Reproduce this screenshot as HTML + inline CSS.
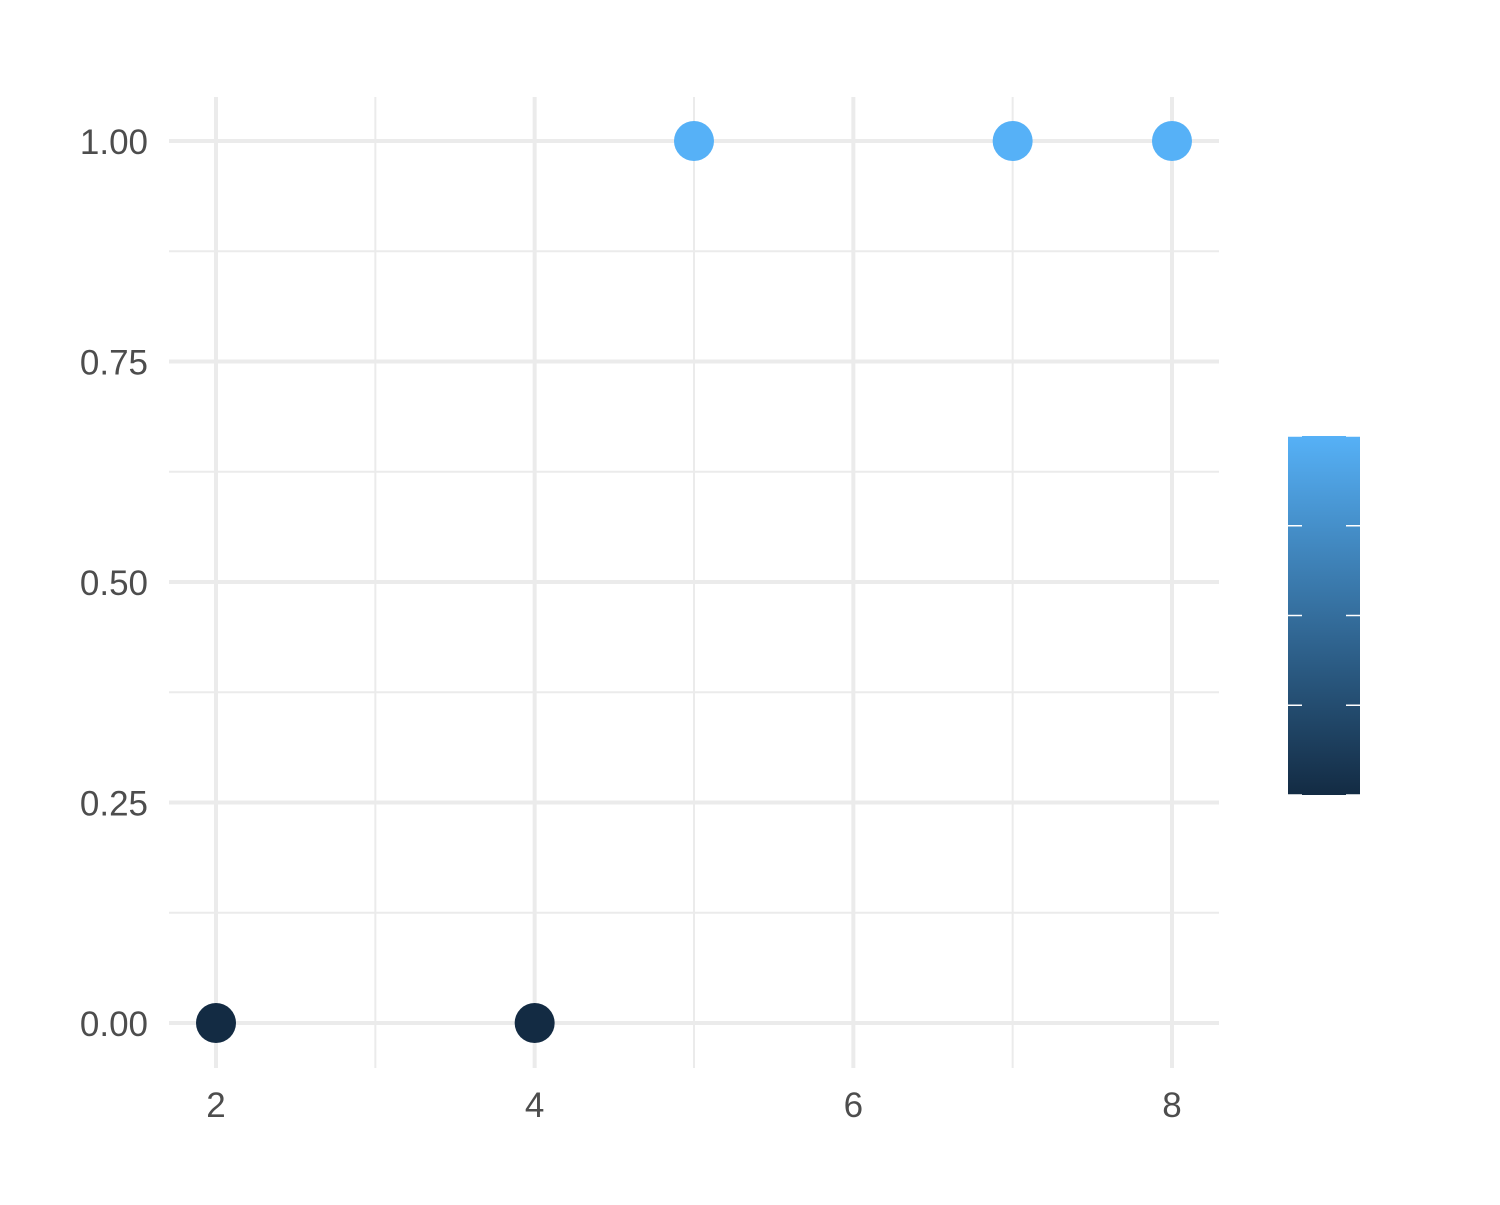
<!DOCTYPE html>
<html><head><meta charset="utf-8"><style>
html,body{margin:0;padding:0;background:#fff;}
svg text{font-family:"Liberation Sans",sans-serif;font-size:35px;fill:#4d4d4d;}
</style></head><body>
<svg id="chart" width="1500" height="1200" xmlns="http://www.w3.org/2000/svg">
<defs><linearGradient id="cg" x1="0" y1="1" x2="0" y2="0"><stop offset="0" stop-color="#132B43"/><stop offset="1" stop-color="#56B1F7"/></linearGradient></defs>
<g id="grid"></g>
<g id="points"></g>
<g id="axes"></g>
<g id="legend">
<rect x="1288" y="436" width="72" height="359" fill="url(#cg)"/>
</g>
</svg>
<script>
const xs=[2,4,5,7,8];
const ys=[0,0,1,1,1];
const xTicks=[2,4,6,8];
const xMinor=[3,5,7];
const yTicks=[0,0.25,0.5,0.75,1];
const yTickLabels=["0.00","0.25","0.50","0.75","1.00"];
const yMinor=[0.125,0.375,0.625,0.875];
const legendTicks=[0,0.25,0.5,0.75,1];
const NS="http://www.w3.org/2000/svg";
const sx=v=>216+(v-2)*159.33;
const sy=v=>1023-v*882;
const L=169,R=1219,T=97,B=1068;
function mk(tag,attrs,parent){const e=document.createElementNS(NS,tag);for(const k in attrs)e.setAttribute(k,attrs[k]);parent.appendChild(e);return e;}
const grid=document.getElementById('grid');
yMinor.forEach(v=>{const e=mk('line',{x1:L,x2:R,y1:sy(v),y2:sy(v),stroke:'#ebebeb','stroke-width':2},grid);

});
xMinor.forEach(v=>{const e=mk('line',{x1:sx(v),x2:sx(v),y1:T,y2:B,stroke:'#ebebeb','stroke-width':2},grid);

});
yTicks.forEach(v=>{const e=mk('line',{x1:L,x2:R,y1:sy(v),y2:sy(v),stroke:'#ebebeb','stroke-width':4},grid);

});
xTicks.forEach(v=>{const e=mk('line',{x1:sx(v),x2:sx(v),y1:T,y2:B,stroke:'#ebebeb','stroke-width':4},grid);

});
const pts=document.getElementById('points');
xs.forEach((x,i)=>{const c=mk('circle',{cx:sx(x),cy:sy(ys[i]),r:20,fill:ys[i]>0.5?'#56B1F7':'#132B43'},pts);

});
const axes=document.getElementById('axes');
yTicks.forEach((v,i)=>{const t=mk('text',{x:148,y:sy(v)+13,'text-anchor':'end'},axes);t.textContent=yTickLabels[i];

});
xTicks.forEach(v=>{const t=mk('text',{x:sx(v),y:1117,'text-anchor':'middle'},axes);t.textContent=String(v);

});
const lg=document.getElementById('legend');
legendTicks.forEach(v=>{const y=795-v*359;
[[1288,1302],[1346,1360]].forEach(p=>{const l=mk('line',{x1:p[0],x2:p[1],y1:y,y2:y,stroke:'#fff','stroke-width':1.5},lg);

});});
</script>
</body></html>
